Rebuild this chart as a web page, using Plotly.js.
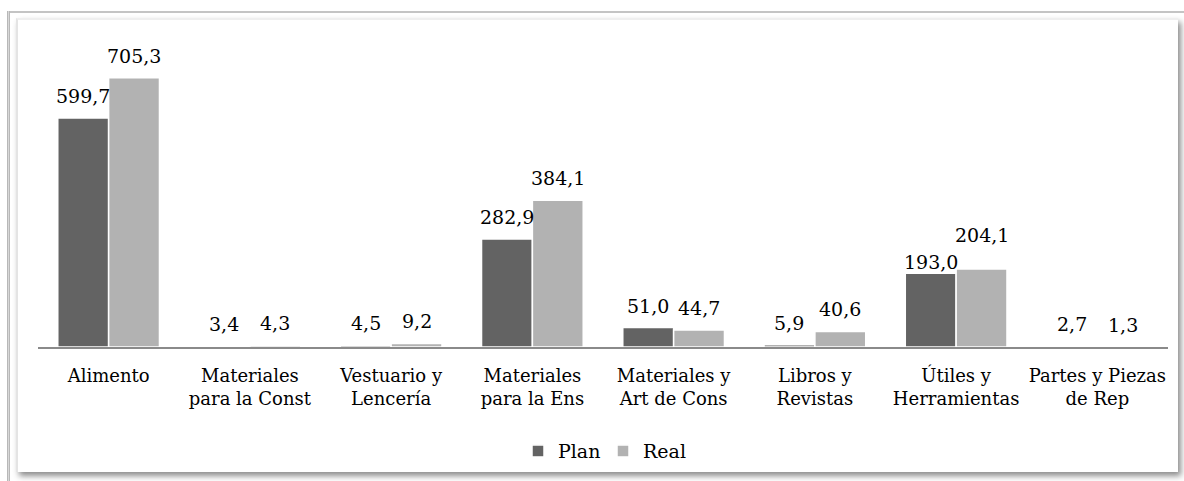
<!DOCTYPE html>
<html>
<head>
<meta charset="utf-8">
<script src="https://cdn.plot.ly/plotly-3.0.1.min.js"></script>
<style>
  html, body { margin: 0; padding: 0; background: #ffffff; }
  #wrap { position: relative; width: 1184px; height: 481px; overflow: hidden; background: #fff; }
  #topline { position: absolute; left: 8px; top: 11px; width: 1176px; height: 2px; background: #c4c4c4; }
  #leftline { position: absolute; left: 7px; top: 11px; width: 3px; height: 470px; background: linear-gradient(to right, #a8a8a8, #d8d8d8, #a8a8a8); }
  #box { position: absolute; left: 16px; top: 18px; width: 1160px; height: 452px; background: #fff;
         border-top: 2px solid #efefef; border-left: 2px solid #e4e4e4;
         box-shadow: 3px 4px 6px rgba(0,0,0,0.45); }
  #chart { position: absolute; left: 0; top: 0; width: 1184px; height: 481px; }
</style>
</head>
<body>
<div id="wrap">
  <div id="topline"></div>
  <div id="leftline"></div>
  <div id="box"></div>
  <div id="chart"></div>
</div>
<script>
const categories = [
  "Alimento",
  "Materiales<br>para la Const",
  "Vestuario y<br>Lencería",
  "Materiales<br>para la Ens",
  "Materiales y<br>Art de Cons",
  "Libros y<br>Revistas",
  "Útiles y<br>Herramientas",
  "Partes y Piezas<br>de Rep"
];
const planValues = [599.7, 3.4, 4.5, 282.9, 51.0, 5.9, 193.0, 2.7];
const realValues = [705.3, 4.3, 9.2, 384.1, 44.7, 40.6, 204.1, 1.3];
const seriesNames = ["Plan", "Real"];
const seriesColors = ["#636363", "#b2b2b2"];

const fmt = v => v.toFixed(1).replace('.', ',');
const BARGAP = 0.28;
const half = (1 - BARGAP) / 4;

const font = "DejaVu Serif, Liberation Serif, serif";

const traces = [planValues, realValues].map((vals, k) => ({
  type: 'bar',
  name: seriesNames[k],
  x: categories,
  y: vals,
  marker: { color: seriesColors[k], line: { color: '#ffffff', width: 1.5 } },
  hoverinfo: 'none'
}));

// label placement tweaks (as in the original, where two labels were moved to avoid overlap)
function labelShift(k, i) {
  if (i === 6) return k === 0 ? -2 : 21;
  return 9;
}

const annotations = [];
[planValues, realValues].forEach((vals, k) => {
  vals.forEach((v, i) => {
    annotations.push({
      xref: 'x', yref: 'y',
      x: i + (k === 0 ? -half : half),
      y: v,
      text: fmt(v),
      showarrow: false,
      xanchor: 'center', yanchor: 'bottom',
      yshift: labelShift(k, i),
      font: { family: font, size: 19, color: '#000000' }
    });
  });
});

const layout = {
  width: 1184, height: 481,
  margin: { l: 38, r: 16, t: 30, b: 133 },
  paper_bgcolor: 'rgba(0,0,0,0)',
  plot_bgcolor: 'rgba(0,0,0,0)',
  barmode: 'group',
  bargap: BARGAP,
  bargroupgap: 0,
  showlegend: true,
  legend: {
    orientation: 'h', x: 0.5, xanchor: 'center', y: -0.324, yanchor: 'middle',
    font: { family: font, size: 19, color: '#000' },
    itemwidth: 30,
    entrywidth: 40, entrywidthmode: 'pixels',
    itemclick: false, itemdoubleclick: false, traceorder: 'normal'
  },
  xaxis: {
    type: 'category',
    showline: true, linecolor: '#8a8a8a', linewidth: 2,
    ticks: '', showgrid: false, zeroline: false,
    ticklabelstandoff: 11,
    tickfont: { family: font, size: 18, color: '#000' },
    tickangle: 0
  },
  yaxis: {
    range: [0, 830],
    showticklabels: false, showgrid: false, zeroline: false, showline: false, ticks: ''
  },
  annotations: annotations
};

Plotly.newPlot('chart', traces, layout, { displayModeBar: false, staticPlot: true });
</script>
</body>
</html>
